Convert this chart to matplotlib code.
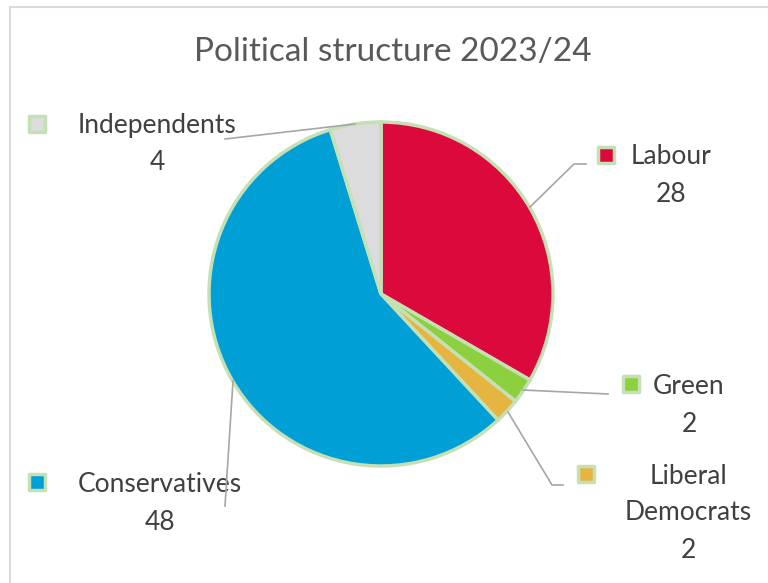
import matplotlib.pyplot as plt
from matplotlib.patches import Rectangle

plt.rcParams['font.family'] = ['Lato', 'DejaVu Sans']

# data
parties = ['Labour', 'Green', 'Liberal\nDemocrats', 'Conservatives', 'Independents']
seats = [28, 2, 2, 48, 4]
colors = ['#DC0A3C', '#8CCF3F', '#E6B440', '#009FD6', '#DCDCDC']

W, H = 768, 583
def Y(py):
    return H - py

fig = plt.figure(figsize=(W / 100, H / 100), dpi=100)
ax = fig.add_axes([0, 0, 1, 1])

edge = '#C5E0B4'
ax.pie(seats, colors=colors, startangle=90, counterclock=False,
       center=(381, Y(294)), radius=172,
       wedgeprops=dict(edgecolor=edge, linewidth=2.5))

ax.set_xlim(0, W)
ax.set_ylim(0, H)
ax.set_aspect('auto')
ax.axis('off')

# chart frame (runs off the right and bottom edges)
fig.patches.append(Rectangle((10 / W, -0.1), 1, 1.1 - 7 / H, transform=fig.transFigure,
                             fill=False, edgecolor='#D9D9D9', linewidth=1.5))

ax.text(393, Y(52), 'Political structure 2023/24', ha='center', va='center',
        fontsize=24, color='#595959')

# label layout: marker pos, text centre, leader line points (pixels)
layout = {
    'Labour': dict(mk=(606, 155), tx=(671, 157), line=[(530, 207), (574, 164), (586, 164)]),
    'Green': dict(mk=(631, 384), tx=(689, 387), line=[(523, 390), (608, 394)]),
    'Liberal\nDemocrats': dict(mk=(586, 474), tx=(688, 476), line=[(508, 412), (552, 485), (563, 485)]),
    'Conservatives': dict(mk=(37, 482), tx=(160, 485), line=[(233, 381), (225, 506)]),
    'Independents': dict(mk=(37, 124), tx=(157, 126), line=[(355, 124), (225, 139)]),
}
linegap = 37
for name, val, col in zip(parties, seats, colors):
    L = layout[name]
    xs = [p[0] for p in L['line']]
    ys = [Y(p[1]) for p in L['line']]
    ax.plot(xs, ys, color='#A6A6A6', linewidth=1.2, zorder=3)
    ax.scatter([L['mk'][0]], [Y(L['mk'][1])], marker='s', s=120, color=col,
               edgecolor=edge, linewidth=2.5, zorder=4)
    lines = name.split('\n') + [str(val)]
    for i, t in enumerate(lines):
        ax.text(L['tx'][0], Y(L['tx'][1] + i * linegap), t, ha='center', va='center',
                fontsize=19, color='#404040', zorder=2)

fig.savefig('out.png', dpi=100)
